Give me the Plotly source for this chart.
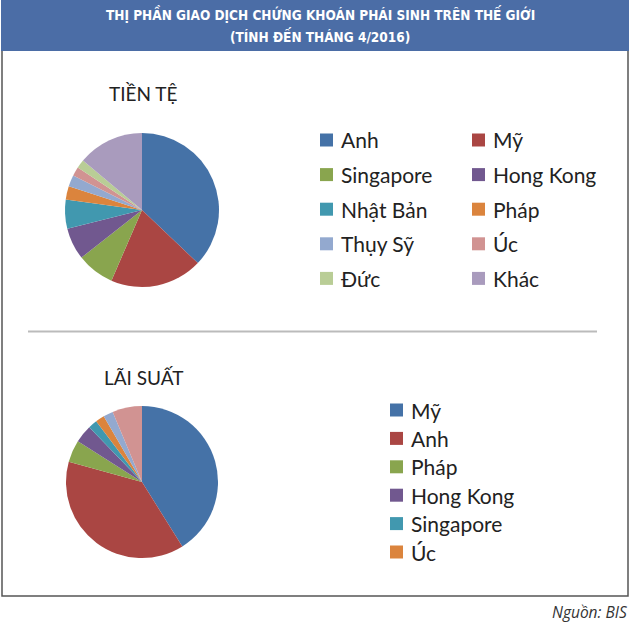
import plotly.graph_objects as go

# ---------------- data ----------------
fx_labels = ["Anh", "Mỹ", "Singapore", "Hong Kong", "Nhật Bản", "Pháp",
             "Thụy Sỹ", "Úc", "Đức", "Khác"]
fx_values = [37.1, 19.4, 7.9, 6.7, 6.1, 2.8, 2.4, 1.9, 1.8, 13.9]

ir_labels = ["Mỹ", "Anh", "Pháp", "Hong Kong", "Singapore", "Úc", "Khác 1", "Khác 2"]
ir_values = [41.1, 38.2, 4.7, 3.8, 1.9, 1.9, 2.1, 6.3]
ir_legend_count = 6  # only first six shown in legend

title_lines = ["THỊ PHẦN GIAO DỊCH CHỨNG KHOÁN PHÁI SINH TRÊN THẾ GIỚI",
               "(TÍNH ĐẾN THÁNG 4/2016)"]
fx_title = "TIỀN TỆ"
ir_title = "LÃI SUẤT"
source_text = "Nguồn: BIS"

palette = ["#4572A7", "#AA4643", "#89A54E", "#71588F", "#4198AF",
           "#DB843D", "#93A9CF", "#D19392", "#B9CD96", "#A99BBD"]
ir_colors = ["#4572A7", "#AA4643", "#89A54E", "#71588F", "#4198AF",
             "#DB843D", "#93A9CF", "#D19392"]

W, H = 640, 625


def px(x):
    return x / W


def py(y):
    return 1 - y / H


fig = go.Figure()

fig.add_trace(go.Pie(
    labels=fx_labels, values=fx_values, sort=False, direction="clockwise",
    rotation=0, textinfo="none", hoverinfo="label+percent",
    marker=dict(colors=palette, line=dict(width=0)),
    domain=dict(x=[px(65), px(219)], y=[py(287), py(133)]),
    showlegend=False,
))
fig.add_trace(go.Pie(
    labels=ir_labels, values=ir_values, sort=False, direction="clockwise",
    rotation=0, textinfo="none", hoverinfo="label+percent",
    marker=dict(colors=ir_colors, line=dict(width=0)),
    domain=dict(x=[px(66), px(218)], y=[py(558), py(406)]),
    showlegend=False,
))

shapes = []
annotations = []

# frame
shapes.append(dict(type="rect", xref="paper", yref="paper",
                   x0=px(2), x1=px(628), y0=py(596), y1=py(1),
                   line=dict(color="#555555", width=1.5), fillcolor="rgba(0,0,0,0)"))
# title bar
shapes.append(dict(type="rect", xref="paper", yref="paper",
                   x0=px(1), x1=px(629), y0=py(51), y1=py(0),
                   line=dict(width=0), fillcolor="#4B6DA6", layer="above"))
# separator
shapes.append(dict(type="line", xref="paper", yref="paper",
                   x0=px(28), x1=px(597), y0=py(331.5), y1=py(331.5),
                   line=dict(color="#BBBBBB", width=2)))

title_font = dict(family="DejaVu Sans Condensed, Arial Narrow", size=13.5,
                  color="white")
for i, t in enumerate(title_lines):
    annotations.append(dict(text="<b>" + t + "</b>", x=px(320), y=py(14 + i * 22),
                            xref="paper", yref="paper", showarrow=False,
                            xanchor="center", yanchor="middle", font=title_font))

label_font = dict(family="Lato, Open Sans, sans-serif", size=19, color="#222222")
annotations.append(dict(text=fx_title, x=px(143), y=py(93), xref="paper", yref="paper",
                        showarrow=False, xanchor="center", yanchor="middle", font=label_font))
annotations.append(dict(text=ir_title, x=px(144), y=py(377), xref="paper", yref="paper",
                        showarrow=False, xanchor="center", yanchor="middle", font=label_font))

legend_font = dict(family="Lato, Open Sans, sans-serif", size=21, color="#222222")
sq = 13
# legend 1: two columns
for i, (lab, col) in enumerate(zip(fx_labels, palette)):
    c, r = i % 2, i // 2
    sx = 320 if c == 0 else 472
    cy = 140 + r * 34.6
    shapes.append(dict(type="rect", xref="paper", yref="paper",
                       x0=px(sx), x1=px(sx + sq), y0=py(cy + sq / 2), y1=py(cy - sq / 2),
                       line=dict(width=0), fillcolor=col))
    annotations.append(dict(text=lab, x=px(sx + 19), y=py(cy), xref="paper", yref="paper",
                            showarrow=False, xanchor="left", yanchor="middle", font=legend_font))

# legend 2: single column
for i in range(ir_legend_count):
    cy = 410 + i * 28.4
    sx = 390
    shapes.append(dict(type="rect", xref="paper", yref="paper",
                       x0=px(sx), x1=px(sx + sq), y0=py(cy + sq / 2), y1=py(cy - sq / 2),
                       line=dict(width=0), fillcolor=ir_colors[i]))
    annotations.append(dict(text=ir_labels[i], x=px(sx + 19), y=py(cy), xref="paper",
                            yref="paper", showarrow=False, xanchor="left", yanchor="middle",
                            font=legend_font))

annotations.append(dict(text="<i>" + source_text + "</i>", x=px(630), y=py(612),
                        xref="paper", yref="paper", showarrow=False, xanchor="right",
                        yanchor="middle",
                        font=dict(family="Open Sans, sans-serif", size=15.5, color="#333333")))

fig.update_layout(width=W, height=H, margin=dict(l=0, r=0, t=0, b=0),
                  paper_bgcolor="white", plot_bgcolor="white",
                  shapes=shapes, annotations=annotations)

fig.write_html("out.html", config={"displayModeBar": False},
               post_script="document.body.style.margin='0';document.body.style.padding='0';"
                           "document.documentElement.style.overflow='hidden';")
